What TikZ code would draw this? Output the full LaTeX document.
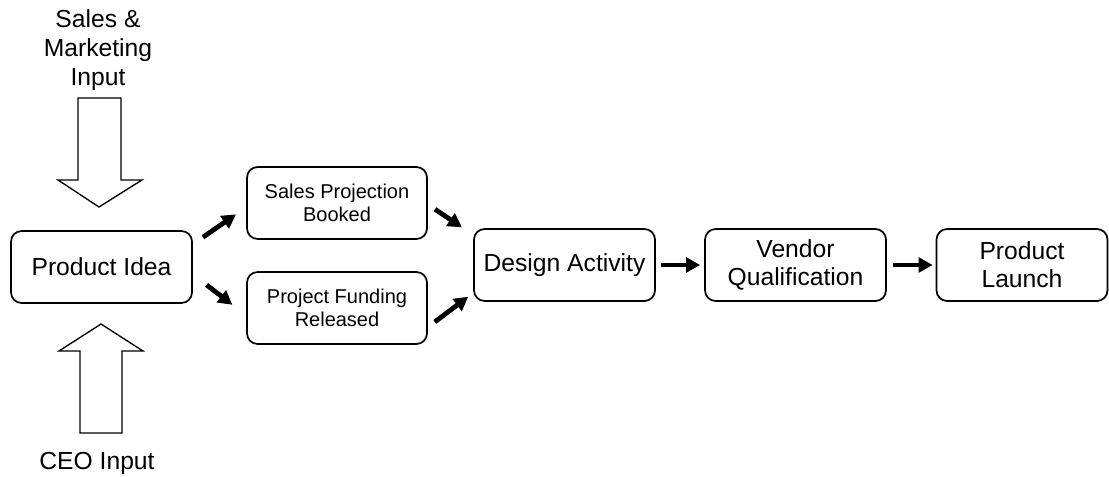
\documentclass[tikz,border=0pt]{standalone}
\usepackage{fontspec}
\setmainfont{Liberation Sans}
\usetikzlibrary{arrows.meta,calc}

\tikzset{
  stage/.style={draw, line width=1.3pt, rounded corners=8pt, align=center,
    minimum width=135.75pt, minimum height=54pt, inner sep=2pt,
    font=\fontsize{18.5}{21pt}\selectfont},
  smallstage/.style={stage, minimum width=135pt,
    font=\fontsize{15}{17pt}\selectfont},
  caption/.style={align=center, inner sep=0pt,
    font=\fontsize{18.5}{21.75pt}\selectfont},
  fat/.style={line width=3.6pt, -{Triangle[length=10.5pt,width=11pt]}},
  hollow/.style={draw, line width=1pt, line join=miter, fill=white}
}

\begin{document}
\begin{tikzpicture}[x=0.75pt, y=-0.75pt]
  \useasboundingbox (0,0) rectangle (1109,477);

  % process boxes
  \node[stage] (pi) at (101.5,267) {Product Idea};
  \node[smallstage] (spb) at (337,203) {Sales Projection\\Booked};
  \node[smallstage] (pf) at (337,308) {Project Funding\\Released};
  \node[stage] (da) at (564.5,265) {Design Activity};
  \node[stage] (vq) at (795.5,265) {Vendor\\Qualification};
  \node[stage, minimum width=128.25pt] (pl) at (1022,265) {Product\\Launch};

  % external inputs
  \node[caption] (smi) at (98,50) {Sales \&\\Marketing\\Input};
  \node[caption] (ceo) at (97,463) {CEO Input};

  % hollow block arrows feeding the product idea
  \draw[hollow] (78,98) -- (121,98) -- (121,180) -- (142,180) -- (99,207)
    -- (58,180) -- (78,180) -- cycle;
  \draw[hollow] (80,433) -- (122,433) -- (122,351) -- (143,351) -- (101,324)
    -- (59,351) -- (80,351) -- cycle;

  % flow arrows
  \draw[fat, shorten <=9.2pt, shorten >=9.2pt]
    ($(pi.north east)!0.19!(pi.south east)$) -- ($(spb.north west)!0.56!(spb.south west)$);
  \draw[fat, shorten <=13pt, shorten >=13pt]
    ($(pi.north east)!0.6!(pi.south east)$) -- ($(pf.north west)!0.6!(pf.south west)$);
  \draw[fat, shorten <=6.4pt, shorten >=10pt]
    ($(spb.north east)!0.52!(spb.south east)$) -- ($(da.north west)!0.09!(da.south west)$);
  \draw[fat, shorten <=6.5pt, shorten >=4.6pt]
    ($(pf.north east)!0.76!(pf.south east)$) -- ($(da.north west)!0.88!(da.south west)$);
  \draw[fat, shorten <=3.75pt, shorten >=3pt] (da.east) -- (vq.west);
  \draw[fat, shorten <=4.5pt, shorten >=2.25pt] (vq.east) -- (pl.west);
\end{tikzpicture}
\end{document}
